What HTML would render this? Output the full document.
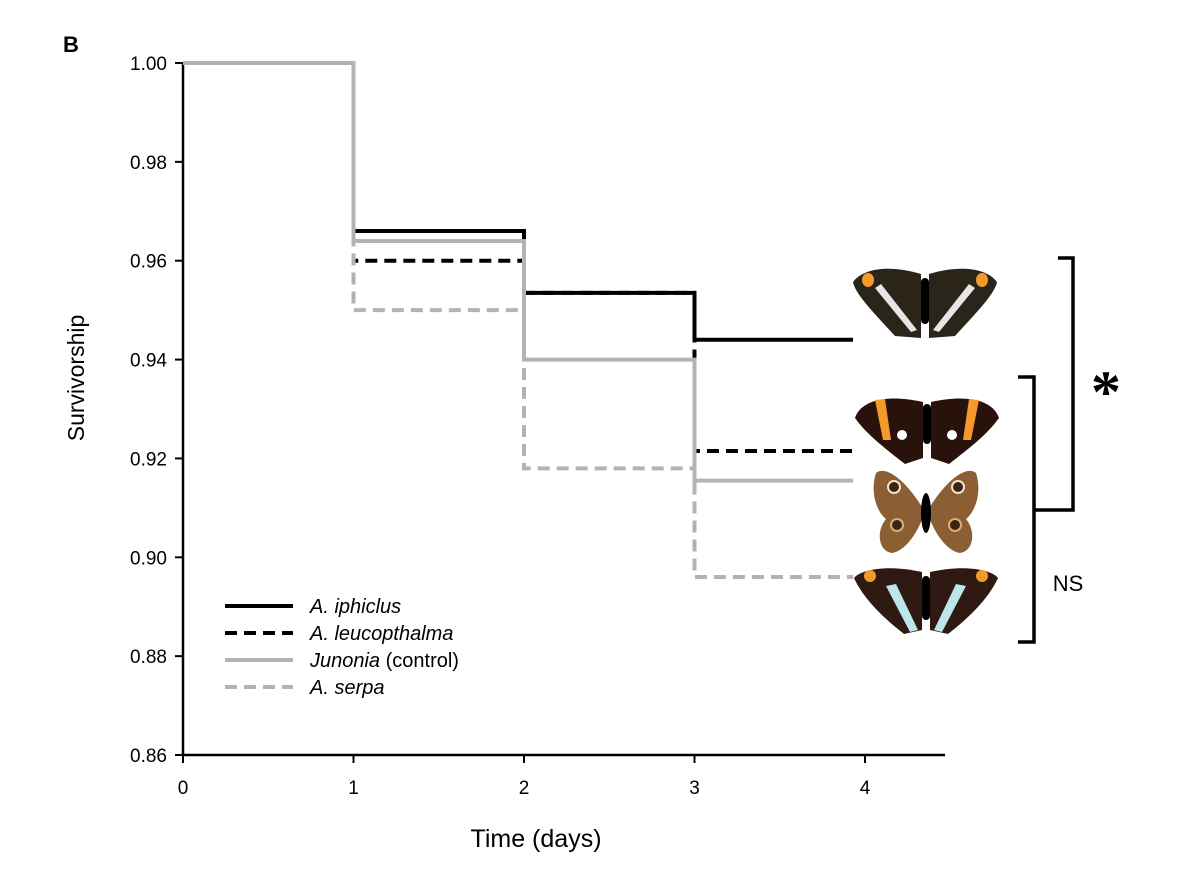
<!DOCTYPE html>
<html><head><meta charset="utf-8"><style>
body{margin:0;background:#fff;}
svg{display:block;font-family:"Liberation Sans",Arial,sans-serif;}
</style></head><body>
<svg id="c" width="1180" height="874" viewBox="0 0 1180 874">
<text x="63" y="52" font-size="22" font-weight="bold">B</text>
<g id="axes"></g>
<g id="series"></g>
<g id="legend"></g>
<g>
 <g transform="translate(925,304)">
  <path d="M-4,-30 C-30,-38 -60,-38 -72,-22 C-70,-10 -50,10 -30,32 L-4,34 Z" fill="#2b2418"/>
  <path d="M4,-30 C30,-38 60,-38 72,-22 C70,-10 50,10 30,32 L4,34 Z" fill="#2b2418"/>
  <path d="M-50,-16 L-44,-20 L-8,26 L-14,28 Z" fill="#e6e6e6"/><path d="M50,-16 L44,-20 L8,26 L14,28 Z" fill="#e6e6e6"/>
  <ellipse cx="-57" cy="-24" rx="6" ry="7" fill="#f39a2a"/><ellipse cx="57" cy="-24" rx="6" ry="7" fill="#f39a2a"/>
  <rect x="-4" y="-26" width="8" height="46" rx="4" fill="#000"/>
 </g>
 <g transform="translate(927,430)">
  <path d="M-4,-28 C-40,-36 -66,-30 -72,-12 C-60,5 -40,20 -22,34 L-4,28 Z" fill="#2a120c"/>
  <path d="M4,-28 C40,-36 66,-30 72,-12 C60,5 40,20 22,34 L4,28 Z" fill="#2a120c"/>
  <path d="M-52,-30 L-42,-31 L-36,10 L-44,10 Z" fill="#f39a2a"/><path d="M52,-30 L42,-31 L36,10 L44,10 Z" fill="#f39a2a"/>
  <circle cx="-25" cy="5" r="5" fill="#fff"/><circle cx="25" cy="5" r="5" fill="#fff"/>
  <rect x="-4" y="-26" width="8" height="40" rx="4" fill="#000"/>
 </g>
 <g transform="translate(926,511)">
  <path d="M-4,-4 C-20,-30 -40,-46 -50,-38 C-56,-20 -50,0 -40,8 C-50,20 -48,40 -34,42 C-20,40 -8,20 -4,8 Z" fill="#8b5e34"/>
  <path d="M4,-4 C20,-30 40,-46 50,-38 C56,-20 50,0 40,8 C50,20 48,40 34,42 C20,40 8,20 4,8 Z" fill="#8b5e34"/>
  <circle cx="-32" cy="-24" r="6" fill="#3a2414" stroke="#f0e4d0" stroke-width="2"/><circle cx="32" cy="-24" r="6" fill="#3a2414" stroke="#f0e4d0" stroke-width="2"/>
  <circle cx="-29" cy="14" r="6" fill="#3a2414" stroke="#d8b070" stroke-width="2"/><circle cx="29" cy="14" r="6" fill="#3a2414" stroke="#d8b070" stroke-width="2"/>
  <ellipse cx="0" cy="2" rx="5" ry="20" fill="#000"/>
 </g>
 <g transform="translate(926,600)">
  <path d="M-4,-28 C-40,-36 -66,-30 -72,-22 C-62,0 -40,20 -22,34 L-4,30 Z" fill="#2e1a12"/>
  <path d="M4,-28 C40,-36 66,-30 72,-22 C62,0 40,20 22,34 L4,30 Z" fill="#2e1a12"/>
  <path d="M-40,-14 L-30,-16 L-8,30 L-16,32 Z" fill="#bde6ea"/><path d="M40,-14 L30,-16 L8,30 L16,32 Z" fill="#bde6ea"/>
  <ellipse cx="-56" cy="-24" rx="6" ry="6" fill="#f39a2a"/><ellipse cx="56" cy="-24" rx="6" ry="6" fill="#f39a2a"/>
  <rect x="-4" y="-24" width="8" height="44" rx="4" fill="#000"/>
 </g>
</g>
<g stroke="#000" stroke-width="3.5" fill="none">
 <path d="M1058,258 H1073 V510 H1035"/>
 <path d="M1018,377 H1034 V642 H1018"/>
</g>
<text x="1106" y="412" font-size="60" font-weight="bold" text-anchor="middle" font-family="Liberation Serif,serif">*</text>
<text x="1068" y="591" font-size="22" text-anchor="middle">NS</text>
</svg>
<script>
const xTicks=[0,1,2,3,4];
const yTicks=[0.86,0.88,0.90,0.92,0.94,0.96,0.98,1.00];
const yLabels=["0.86","0.88","0.90","0.92","0.94","0.96","0.98","1.00"];
const times=[0,1,2,3,3.93];
const iphiclus=[1.0,0.966,0.9535,0.944];
const leucopthalma=[1.0,0.960,0.9535,0.9215];
const junonia=[1.0,0.964,0.940,0.9155];
const serpa=[1.0,0.950,0.918,0.896];
const names=["A. iphiclus","A. leucopthalma","Junonia","A. serpa"];
const NS="http://www.w3.org/2000/svg";
const X=v=>183+v*170.5, Y=v=>63+(1.0-v)/0.14*692;
function mk(t,a,p){const e=document.createElementNS(NS,t);for(const k in a)e.setAttribute(k,a[k]);p.appendChild(e);return e;}
const ax=document.getElementById('axes');
let l=mk('line',{x1:183,y1:62,x2:183,y2:755,stroke:'#000','stroke-width':2.5},ax);


l=mk('line',{x1:182,y1:755,x2:945,y2:755,stroke:'#000','stroke-width':2.5},ax);


yTicks.forEach((v,i)=>{mk('line',{x1:175,x2:183,y1:Y(v),y2:Y(v),stroke:'#000','stroke-width':2},ax);
 const t=mk('text',{x:167,y:Y(v)+7,'font-size':19,'text-anchor':'end'},ax);t.textContent=yLabels[i];
 
 });
xTicks.forEach(v=>{mk('line',{x1:X(v),x2:X(v),y1:755,y2:763,stroke:'#000','stroke-width':2},ax);
 const t=mk('text',{x:X(v),y:794,'font-size':19,'text-anchor':'middle'},ax);t.textContent=v;
 
 });
let t=mk('text',{x:536,y:847,'font-size':25,'text-anchor':'middle'},ax);t.textContent='Time (days)';


t=mk('text',{x:0,y:0,'font-size':23,'text-anchor':'middle',transform:'translate(84,378) rotate(-90)'},ax);t.textContent='Survivorship';


const styles=[{c:'#000',d:''},{c:'#000',d:'12,7'},{c:'#b3b3b3',d:''},{c:'#b3b3b3',d:'12,7'}];
const data=[iphiclus,leucopthalma,junonia,serpa];
const sg=document.getElementById('series');
[1,0,3,2].forEach(i=>{const s=data[i];let d='M'+X(times[0])+','+Y(s[0]);
 for(let k=0;k<s.length;k++){d+=' H'+X(times[k+1]);if(k+1<s.length)d+=' V'+Y(s[k+1]);}
 const p=mk('path',{d:d,fill:'none',stroke:styles[i].c,'stroke-width':4,'stroke-dasharray':styles[i].d},sg);
 
 });
const lg=document.getElementById('legend');
const lab=[['A. iphiclus',''],['A. leucopthalma',''],['Junonia',' (control)'],['A. serpa','']];
lab.forEach((L,i)=>{const y=606+i*27;
 const g=mk('g',{},lg);
 
 
 mk('line',{x1:225,x2:293,y1:y,y2:y,stroke:styles[i].c,'stroke-width':4,'stroke-dasharray':styles[i].d},g);
 const tx=mk('text',{x:310,y:y+7,'font-size':20},g);
 const it=mk('tspan',{'font-style':'italic'},tx);it.textContent=L[0];
 if(L[1]){const n=mk('tspan',{},tx);n.textContent=L[1];}});
</script>
</body></html>
